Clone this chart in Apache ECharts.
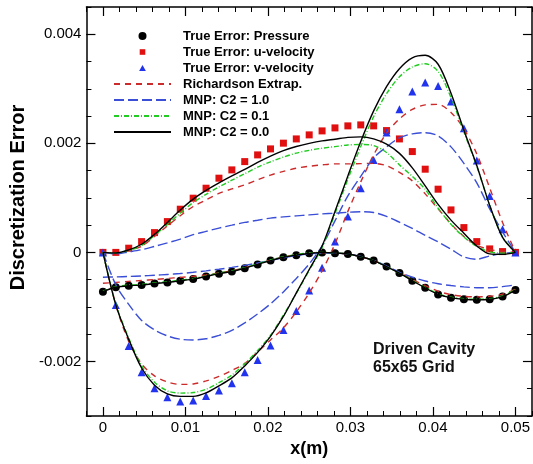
<!DOCTYPE html>
<html><head><meta charset="utf-8">
<script src="https://cdn.jsdelivr.net/npm/echarts@6/dist/echarts.min.js"></script>
<style>html,body{margin:0;padding:0;background:#fff}#c{width:533px;height:464px}</style>
</head><body><div id="c"></div>
<script>
// x positions of samples (m)
const xs = [0,0.0015625,0.003125,0.0046875,0.00625,0.0078125,0.009375,0.0109375,0.0125,0.0140625,0.015625,0.0171875,0.01875,0.0203125,0.021875,0.0234375,0.025,0.0265625,0.028125,0.0296875,0.03125,0.0328125,0.034375,0.0359375,0.0375,0.0390625,0.040625,0.0421875,0.04375,0.0453125,0.046875,0.0484375,0.05];
const xTickLabels = [0,0.01,0.02,0.03,0.04,0.05];
const yTickLabels = [-0.002,0,0.002,0.004];

// True errors (markers)
const truePressure = [-0.00072,-0.00064,-0.00061,-0.0006,-0.00057,-0.00055,-0.00052,-0.00049,-0.00044,-0.00039,-0.00035,-0.00029,-0.00022,-0.00015,-0.00009,-0.00005,-0.000015,-0.000004,-0.000015,-0.00003,-0.00008,-0.00015,-0.00026,-0.00038,-0.00052,-0.00065,-0.00077,-0.00083,-0.00086,-0.00087,-0.00086,-0.00081,-0.00069];
const trueU = [0,0,0.000077,0.000198,0.000363,0.000565,0.000792,0.000994,0.001177,0.001361,0.001513,0.001665,0.001788,0.001898,0.002003,0.002081,0.002155,0.002228,0.002283,0.00232,0.002338,0.00232,0.002234,0.002081,0.001849,0.001526,0.001159,0.000779,0.000455,0.000198,0.000064,0.000015,0];
const trueV = [0,-0.000963,-0.001715,-0.002197,-0.00249,-0.002655,-0.002736,-0.002718,-0.002632,-0.002534,-0.002399,-0.002197,-0.001971,-0.001709,-0.001421,-0.001073,-0.000697,-0.000281,0.000198,0.000657,0.001177,0.001696,0.002197,0.002626,0.002949,0.003114,0.003053,0.002765,0.002278,0.001683,0.001036,0.000425,0];

// Richardson extrapolation
const richP = [-0.000565,-0.00055,-0.000532,-0.000515,-0.000497,-0.000478,-0.000458,-0.000438,-0.000412,-0.000375,-0.000335,-0.000282,-0.00021,-0.000145,-0.000085,-0.000043,-0.000013,-0.000004,-0.000015,-0.00003,-0.00008,-0.00015,-0.000255,-0.00037,-0.000495,-0.00061,-0.00071,-0.000775,-0.000805,-0.000815,-0.000805,-0.000765,-0.000675];
const richU = [0,-0.000015,0.000037,0.000112,0.000293,0.000486,0.000673,0.000842,0.000963,0.001082,0.001164,0.001238,0.00133,0.001418,0.001485,0.001544,0.001579,0.001605,0.001623,0.001623,0.001628,0.001632,0.00159,0.001467,0.001311,0.001073,0.000798,0.000523,0.000293,0.000132,0.000055,0.000018,0];
const richV = [0,-0.000963,-0.001632,-0.002045,-0.002265,-0.002375,-0.002421,-0.002412,-0.002357,-0.002274,-0.002164,-0.002036,-0.001825,-0.001605,-0.001385,-0.001091,-0.000743,-0.000339,0.000156,0.000752,0.001293,0.001788,0.002186,0.002448,0.002622,0.002705,0.002714,0.002567,0.002265,0.001806,0.001183,0.00055,0];

// MNP C2 = 1.0
const c10P = [-0.000455,-0.00045,-0.000442,-0.000432,-0.00042,-0.000405,-0.000388,-0.000365,-0.000338,-0.000308,-0.000275,-0.000238,-0.000195,-0.000148,-0.0001,-0.00006,-0.000028,-0.000012,-0.000015,-0.000032,-0.000075,-0.000145,-0.00025,-0.000365,-0.000455,-0.000525,-0.000575,-0.000608,-0.000632,-0.000648,-0.000648,-0.000628,-0.000596];
const c10U = [0,-0.000028,0.000009,0.00005,0.00011,0.000174,0.000244,0.000325,0.000385,0.000446,0.000499,0.00055,0.00059,0.000629,0.000651,0.000669,0.000688,0.000706,0.000719,0.000735,0.000746,0.000732,0.00066,0.000554,0.00044,0.000312,0.000193,0.000059,-0.000083,-0.000125,-0.000064,-0.000018,0];
const c10V = [0,-0.000596,-0.000954,-0.001247,-0.001421,-0.001531,-0.001592,-0.001605,-0.001583,-0.001522,-0.00143,-0.001293,-0.001128,-0.000944,-0.000724,-0.000477,-0.000211,0.000119,0.000578,0.001036,0.001394,0.001733,0.001935,0.0021,0.002173,0.002195,0.002136,0.001935,0.001632,0.001275,0.000798,0.000376,0];

// MNP C2 = 0.1
const c01P = [-0.00071,-0.00063,-0.0006,-0.00059,-0.00056,-0.00054,-0.00051,-0.00048,-0.00043,-0.00038,-0.00034,-0.00028,-0.00021,-0.00014,-0.00008,-0.00004,-0.00001,0,-0.00001,-0.00003,-0.00008,-0.00015,-0.00026,-0.00038,-0.00051,-0.00064,-0.00076,-0.00082,-0.00085,-0.00086,-0.00085,-0.0008,-0.00068];
const c01U = [0,-0.00001,0.000037,0.000128,0.000312,0.000513,0.000719,0.000915,0.001064,0.001201,0.001324,0.001443,0.001562,0.001661,0.001748,0.001821,0.001872,0.001911,0.00194,0.00197,0.00198,0.00196,0.001832,0.001605,0.001394,0.001157,0.000809,0.000515,0.000281,0.00011,0.000011,-0.000013,0];
const c01V = [0,-0.00095,-0.00157,-0.00208,-0.00238,-0.00254,-0.00258,-0.00257,-0.00251,-0.00239,-0.00225,-0.00204,-0.0018,-0.00152,-0.00115,-0.00075,-0.00033,0.00009,0.00071,0.00134,0.00194,0.00249,0.00291,0.00322,0.0034,0.00346,0.00332,0.00284,0.00221,0.00158,0.00087,0.00028,0];

// MNP C2 = 0.0
const c00P = [-0.00072,-0.00064,-0.00061,-0.0006,-0.00057,-0.00055,-0.00052,-0.00049,-0.00044,-0.00039,-0.00035,-0.00029,-0.00022,-0.00015,-0.00009,-0.00005,-0.00002,0,-0.00001,-0.00003,-0.00008,-0.00015,-0.00026,-0.00038,-0.00052,-0.00065,-0.00077,-0.00083,-0.00086,-0.00087,-0.00086,-0.00081,-0.00069];
const c00U = [0,-0.00001,0.000046,0.000149,0.00033,0.00055,0.000776,0.000976,0.001137,0.001275,0.001403,0.001522,0.00165,0.001766,0.001867,0.001942,0.001999,0.002045,0.002076,0.002109,0.002118,0.002081,0.001984,0.001816,0.00155,0.00122,0.00088,0.000592,0.000352,0.000119,-0.000028,-0.000037,0];
const c00V = [0,-0.000963,-0.001595,-0.00212,-0.002435,-0.002595,-0.002641,-0.002641,-0.002577,-0.002448,-0.002301,-0.002081,-0.001834,-0.00154,-0.001175,-0.000743,-0.000314,0.000117,0.000752,0.001403,0.002034,0.002595,0.00304,0.003369,0.003569,0.003614,0.00345,0.002919,0.002241,0.001594,0.000862,0.000275,0];

const FONT = '"Liberation Sans", Arial, Helvetica, sans-serif';
const pairs = ys => xs.map((x, i) => [x, ys[i]]);

const NAMES = ['True Error: Pressure','True Error: u-velocity','True Error: v-velocity','Richardson Extrap.','MNP: C2 = 1.0','MNP: C2 = 0.1','MNP: C2 = 0.0'];
const lineDefs = [
  {name: NAMES[3], color: '#cc2b2b', type: [6,5], width: 1.4, sets: [richP, richU, richV]},
  {name: NAMES[4], color: '#3b4fd6', type: [10,4], width: 1.4, sets: [c10P, c10U, c10V]},
  {name: NAMES[5], color: '#22cc22', type: [5,2,1,2], width: 1.4, sets: [c01P, c01U, c01V]},
  {name: NAMES[6], color: '#000000', type: 'solid', width: 1.4, sets: [c00P, c00U, c00V]}
];

const series = [
  {name: NAMES[0], type: 'scatter', symbol: 'circle', symbolSize: 8, itemStyle: {color: '#000', opacity: 1}, data: pairs(truePressure), z: 2},
  {name: NAMES[1], type: 'scatter', symbol: 'rect', symbolSize: 7, itemStyle: {color: '#e01010', opacity: 1}, data: pairs(trueU), z: 2},
  {name: NAMES[2], type: 'scatter', symbol: 'triangle', symbolSize: 8, itemStyle: {color: '#2233ee', opacity: 1}, data: pairs(trueV), z: 2}
];
lineDefs.forEach(d => d.sets.forEach(s => series.push({
  name: d.name, type: 'line', symbol: 'none', smooth: 0.3, z: 3,
  lineStyle: {color: d.color, type: d.type, width: d.width},
  itemStyle: {color: d.color},
  data: pairs(s)
})));

const legendData = [
  {name: NAMES[0], icon: 'circle'},
  {name: NAMES[1], icon: 'path://M0,0M8,8M1.2,1.2L6.8,1.2L6.8,6.8L1.2,6.8Z'},
  {name: NAMES[2], icon: 'path://M0,0M8,8M4,1L7.4,7L0.6,7Z'},
  {name: NAMES[3], itemStyle: {opacity: 0}},
  {name: NAMES[4], itemStyle: {opacity: 0}},
  {name: NAMES[5], itemStyle: {opacity: 0}},
  {name: NAMES[6], itemStyle: {opacity: 0}}
];

const X0 = -0.002, X1 = 0.052, Y0 = -0.003, Y1 = 0.0045;
const lineStyle = {color: '#000', width: 1.5};
function xAx(pos, major, withLine, withLabel, extra) {
  return Object.assign({
    type: 'value', position: pos, min: X0, max: X1,
    axisLine: {show: withLine, onZero: false, lineStyle},
    splitLine: {show: false},
    axisTick: major ? {show: true, inside: true, length: 9, customValues: xTickLabels, lineStyle: {color:'#000', width: 1.2}}
                    : {show: true, inside: true, length: 5, lineStyle: {color:'#000', width: 1}},
    axisLabel: withLabel ? {show: true, customValues: xTickLabels, margin: 4, color: '#000', fontSize: 15, fontFamily: FONT} : {show: false}
  }, major ? {} : {interval: 0.002}, extra || {});
}
function yAx(pos, major, withLine, withLabel, extra) {
  return Object.assign({
    type: 'value', position: pos, min: Y0, max: Y1,
    axisLine: {show: withLine, onZero: false, lineStyle},
    splitLine: {show: false},
    axisTick: major ? {show: true, inside: true, length: 9, customValues: yTickLabels, lineStyle: {color:'#000', width: 1.2}}
                    : {show: true, inside: true, length: 5, lineStyle: {color:'#000', width: 1}},
    axisLabel: withLabel ? {show: true, customValues: yTickLabels, margin: 5, color: '#000', fontSize: 15, fontFamily: FONT} : {show: false}
  }, major ? {} : {interval: 0.0005}, extra || {});
}

const chart = echarts.init(document.getElementById('c'), null, {renderer: 'canvas'});
chart.setOption({
  animation: false,
  backgroundColor: '#fff',
  grid: {left: 85, top: 7, width: 450, height: 409, containLabel: false},
  title: {text: 'Driven Cavity\n65x65 Grid', left: 373, top: 341, padding: 0,
    textStyle: {fontSize: 16, fontWeight: 'bold', lineHeight: 18, color: '#111', fontFamily: FONT}},
  legend: {
    data: legendData, orient: 'vertical', left: 113, top: 29, padding: 0,
    itemWidth: 57, itemHeight: 8, itemGap: 2, selectedMode: false,
    textStyle: {fontSize: 13, fontWeight: 'bold', color: '#000', fontFamily: FONT, lineHeight: 14, padding: [0,0,0,7]}
  },
  xAxis: [
    xAx('bottom', true, true, true, {name: 'x(m)', nameLocation: 'middle', nameGap: 16,
      nameTextStyle: {fontSize: 18, fontWeight: 'bold', color: '#000', fontFamily: FONT}}),
    xAx('bottom', false, false, false),
    xAx('top', true, true, false),
    xAx('top', false, false, false)
  ],
  yAxis: [
    yAx('left', true, true, true, {name: 'Discretization Error', nameLocation: 'middle', nameGap: 45,
      nameTextStyle: {fontSize: 20, fontWeight: 'bold', color: '#000', fontFamily: FONT, padding: [0,0,0,28]}}),
    yAx('left', false, false, false),
    yAx('right', true, true, false),
    yAx('right', false, false, false)
  ],
  series
});
</script></body></html>
